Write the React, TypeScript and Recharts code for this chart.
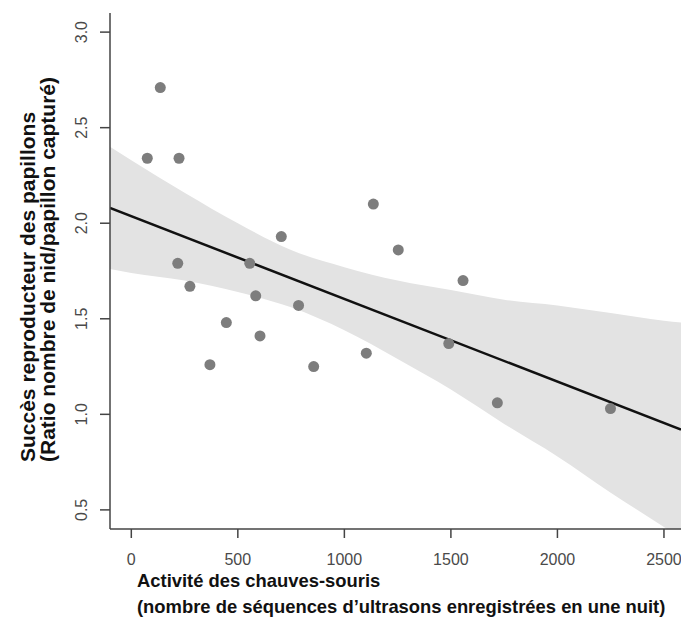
import { ComposedChart, Area, Line, Scatter, XAxis, YAxis } from "recharts";

// bat activity vs moth breeding success, with linear fit and 95% band
const batActivity = [75, 136, 224, 218, 275, 369, 446, 556, 584, 604, 704, 785, 856, 1103, 1136, 1253, 1490, 1557, 1718, 2249];
const breedingRatio = [2.34, 2.71, 2.34, 1.79, 1.67, 1.26, 1.48, 1.79, 1.62, 1.41, 1.93, 1.57, 1.25, 1.32, 2.1, 1.86, 1.37, 1.7, 1.06, 1.03];

const fitX = [-100, 2580];
const fitY = [2.08, 0.92];

const bandX = [-100, 0, 250, 500, 750, 1000, 1250, 1500, 1750, 2000, 2250, 2500, 2580];
const bandUpper = [2.4, 2.33, 2.16, 2.0, 1.86, 1.77, 1.7, 1.65, 1.6, 1.57, 1.53, 1.49, 1.48];
const bandLower = [1.76, 1.74, 1.7, 1.64, 1.56, 1.44, 1.29, 1.13, 0.95, 0.78, 0.59, 0.41, 0.35];

const xTicks = [0, 500, 1000, 1500, 2000, 2500];
const yTicks = [0.5, 1.0, 1.5, 2.0, 2.5, 3.0];

const FONT = "'Liberation Sans', Arial, sans-serif";
const AXIS = "#444";
const TICK_TEXT = "#4a4a4a";

const points = batActivity.map((x, i) => ({ x, y: breedingRatio[i] }));
const fitRows = fitX.map((x, i) => ({ x, fit: fitY[i] }));
const bandRows = bandX.map((x, i) => ({ x, band: [bandLower[i], bandUpper[i]] }));

function XTick({ x, y, payload }: any) {
  return (
    <text x={x} y={y + 19} textAnchor="middle" dominantBaseline="central" fontFamily={FONT} fontSize={16} fill={TICK_TEXT}>
      {payload.value}
    </text>
  );
}

function YTick({ x, y, payload }: any) {
  const cx = x - 16;
  return (
    <text
      x={cx}
      y={y}
      transform={`rotate(-90, ${cx}, ${y})`}
      textAnchor="middle"
      dominantBaseline="central"
      fontFamily={FONT}
      fontSize={16}
      fill={TICK_TEXT}
    >
      {Number(payload.value).toFixed(1)}
    </text>
  );
}

export default function App() {
  return (
    <div style={{ position: "absolute", left: 0, top: 0, width: 681, height: 621, background: "#fff" }}>
      <ComposedChart width={681} height={621} margin={{ top: 13, right: 0, bottom: 0, left: 0 }}>
        <XAxis
          type="number"
          dataKey="x"
          domain={[-100, 2580]}
          ticks={xTicks}
          allowDataOverflow
          height={92}
          tickSize={9}
          axisLine={{ stroke: AXIS, strokeWidth: 1.5 }}
          tickLine={{ stroke: AXIS, strokeWidth: 1.5 }}
          tick={<XTick />}
        />
        <YAxis
          type="number"
          domain={[0.4, 3.1]}
          ticks={yTicks}
          allowDataOverflow
          width={110}
          tickSize={10}
          axisLine={{ stroke: AXIS, strokeWidth: 1.5 }}
          tickLine={{ stroke: AXIS, strokeWidth: 1.5 }}
          tick={<YTick />}
        />
        <Area
          data={bandRows}
          dataKey="band"
          type="monotone"
          stroke="none"
          fill="#e3e3e3"
          fillOpacity={1}
          isAnimationActive={false}
        />
        <Line
          data={fitRows}
          dataKey="fit"
          type="linear"
          stroke="#111"
          strokeWidth={2.5}
          dot={false}
          isAnimationActive={false}
        />
        <Scatter data={points} dataKey="y" fill="#7d7d7d" shape={(p: any) => <circle cx={p.cx} cy={p.cy} r={5.5} fill="#7d7d7d" />} isAnimationActive={false} />
      </ComposedChart>
      <svg width={681} height={621} style={{ position: "absolute", left: 0, top: 0, pointerEvents: "none" }}>
        <g fontFamily={FONT} fontWeight="bold" fill="#111">
          <text x={137} y={587} fontSize={18.4}>Activité des chauves-souris</text>
          <text x={137} y={613} fontSize={18.4}>(nombre de séquences d’ultrasons enregistrées en une nuit)</text>
          <text x={27.5} y={462} fontSize={21} transform="rotate(-90, 27.5, 462)" dominantBaseline="central">
            Succès reproducteur des papillons
          </text>
          <text x={47.5} y={462} fontSize={21} transform="rotate(-90, 47.5, 462)" dominantBaseline="central">
            (Ratio nombre de nid/papillon capturé)
          </text>
        </g>
      </svg>
    </div>
  );
}
